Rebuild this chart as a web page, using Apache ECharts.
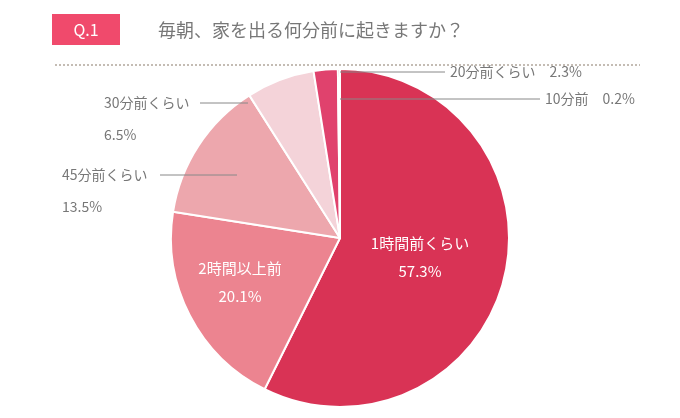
<!DOCTYPE html><html><head><meta charset="utf-8"><script src="https://cdn.jsdelivr.net/npm/echarts@6/dist/echarts.min.js"></script>
<style>body{margin:0}#c{width:680px;height:418px}</style></head><body><div id="c"></div><script>
const categories=['1時間前くらい','2時間以上前','45分前くらい','30分前くらい','20分前くらい','10分前'];
const values=[57.3,20.1,13.5,6.5,2.3,0.2];
const colors=['#d93355','#ec8490','#eda7ad','#f4d3d9','#e0426d','#c0304a'];
const F='"Noto Sans CJK JP", sans-serif';
const chart=echarts.init(document.getElementById('c'));
const t=(x,y,s,align)=>({type:'text',left:undefined,x:x,y:y,style:{text:s,fill:'#777',font:'14px '+F,textAlign:align||'left',textVerticalAlign:'middle'}});
const l=(x1,y1,x2,y2)=>({type:'line',shape:{x1,y1,x2,y2},style:{stroke:'#888',lineWidth:1},z:10});
chart.setOption({
 graphic:[
  {type:'rect',shape:{x:52,y:14,width:68,height:31},style:{fill:'#f04a6c'}},
  {type:'text',x:86,y:30,style:{text:'Q.1',fill:'#fff',font:'16px '+F,textAlign:'center',textVerticalAlign:'middle'}},
  {type:'text',x:158,y:30,style:{text:'毎朝、家を出る何分前に起きますか？',fill:'#777',font:'18px '+F,textVerticalAlign:'middle'}},
  {type:'line',shape:{x1:55,y1:65,x2:640,y2:65},style:{stroke:'#8a7a6a',lineWidth:1,lineDash:[2,2]}},
  l(340,72,445,72),t(450,72,categories[4]+'　'+values[4].toFixed(1)+'%'),
  l(340,99,540,99),t(545,99,categories[5]+'　'+values[5].toFixed(1)+'%'),
  l(200,103,248,103),t(104,103,categories[3]),t(104,135,values[3].toFixed(1)+'%'),
  l(160,175,237,175),t(62,175,categories[2]),t(62,207,values[2].toFixed(1)+'%')
 ],
 series:[{type:'pie',center:[340,238],radius:[0,169],startAngle:90,clockwise:true,animation:false,
  itemStyle:{borderColor:'#fff',borderWidth:2},
  data:categories.map((n,i)=>({name:n,value:values[i],itemStyle:{color:colors[i]},
   label:{show:i<2,position:'inside',formatter:'{b}\n\n{c}%',color:'#fff',fontSize:15,fontFamily:F,lineHeight:14}})),
  labelLayout:p=>p.dataIndex===0?{x:420,y:257}:p.dataIndex===1?{x:240,y:282}:{}
 }]
});
</script></body></html>
